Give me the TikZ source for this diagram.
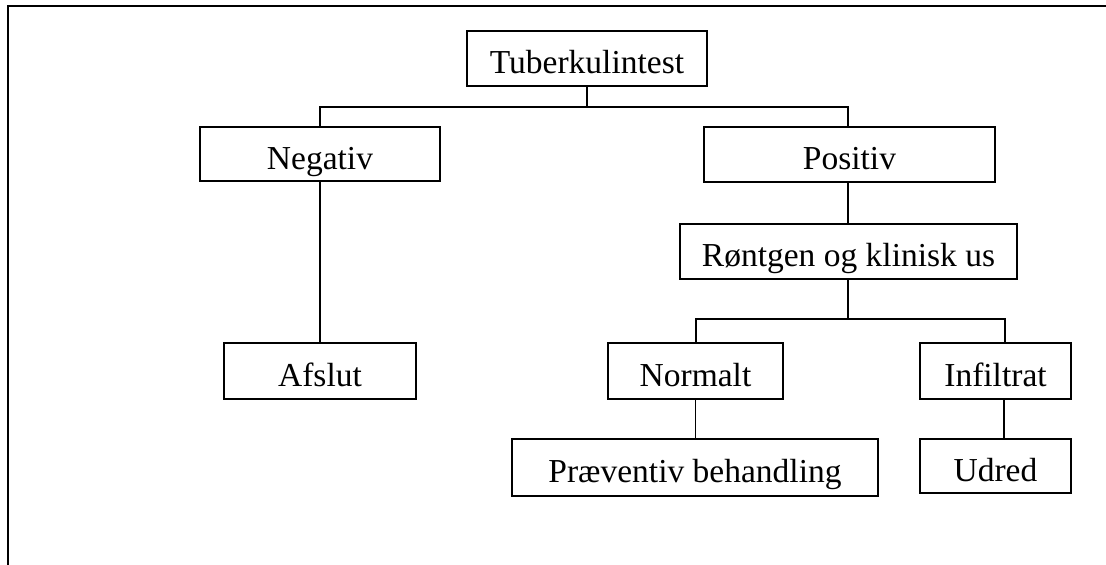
\documentclass[tikz,border=0pt]{standalone}
\usepackage{fontspec}
\setmainfont{Liberation Serif}
\begin{document}
\begin{tikzpicture}[x=1pt,y=-1pt,
  box/.style={draw, line width=2.2pt, rectangle, inner sep=0pt, text height=30pt, text depth=0pt, font=\fontsize{33.5}{40}\selectfont},
  conn/.style={line width=1.5pt}]
\useasboundingbox (0,0) rectangle (1106,565);
% frame
\draw[line width=2pt] (8,565) -- (8,6) -- (1106,6);
% boxes
\node[box, minimum width=240pt, minimum height=55pt] (tub) at (587,58.5) {Tuberkulintest};
\node[box, minimum width=240pt, minimum height=54pt] (neg) at (320,154) {Negativ};
\node[box, minimum width=291pt, minimum height=55pt] (pos) at (849.5,154.5) {Positiv};
\node[box, minimum width=337pt, minimum height=55pt] (rnt) at (848.5,251.5) {Røntgen og klinisk us};
\node[box, minimum width=192pt, minimum height=56pt] (afs) at (320,371) {Afslut};
\node[box, minimum width=175pt, minimum height=56pt] (nor) at (695.5,371) {Normalt};
\node[box, minimum width=151pt, minimum height=56pt] (inf) at (995.5,371) {Infiltrat};
\node[box, minimum width=366pt, minimum height=57pt] (prv) at (695,467.5) {Præventiv behandling};
\node[box, minimum width=151pt, minimum height=54pt] (udr) at (995.5,466) {Udred};
% junctions
\coordinate (j1) at (587,107);
\coordinate (j2) at (848,319);
% connectors
\draw[conn] (tub.south) -- (j1);
\draw[conn] (j1) -| (neg.north);
\draw[conn] (j1) -| ([xshift=-1.5pt]pos.north);
\draw[conn] (neg.south) -- (afs.north);
\draw[conn] ([xshift=-1.5pt]pos.south) -- ([xshift=-0.5pt]rnt.north);
\draw[conn] ([xshift=-0.5pt]rnt.south) -- (j2);
\draw[conn] (j2) -| ([xshift=0.5pt]nor.north);
\draw[conn] (j2) -| ([xshift=9.5pt]inf.north);
\draw[conn] (nor.south) -- (nor.south |- prv.north);
\draw[conn] ([xshift=8.5pt]inf.south) -- ([xshift=8.5pt]udr.north);
\end{tikzpicture}
\end{document}
